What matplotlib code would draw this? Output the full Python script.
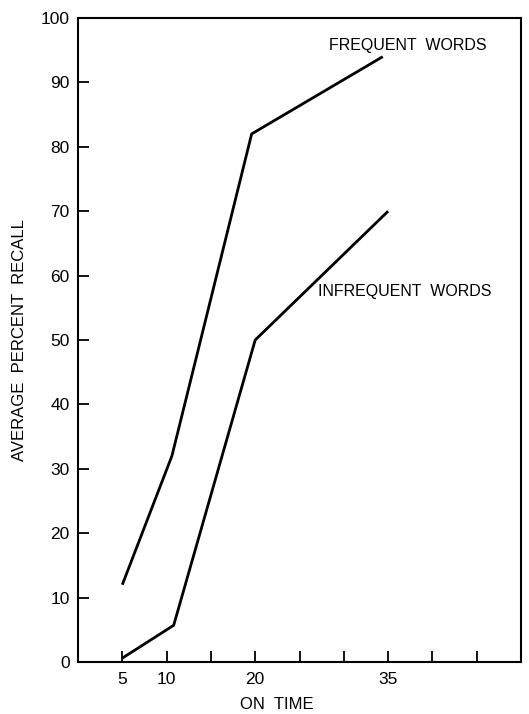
import matplotlib
matplotlib.use("Agg")
import matplotlib.pyplot as plt

# on time (x) and average percent recall (y)
freq_x = [5, 10.6, 19.6, 34.4]
freq_y = [12, 32, 82, 94]
infreq_x = [5, 10.8, 20, 35]
infreq_y = [0.6, 5.7, 50, 70]

x_ticks = [5, 10, 15, 20, 25, 30, 35, 40, 45]
x_labels = ["5", "10", "", "20", "", "", "35", "", ""]
y_ticks = list(range(0, 101, 10))

plt.rcParams['font.family'] = ['Liberation Sans', 'DejaVu Sans']

fig = plt.figure(figsize=(5.29, 7.14), dpi=100)
ax = fig.add_axes([78 / 529, 1 - 662 / 714, (521 - 78) / 529, (662 - 18) / 714])

ax.plot(freq_x, freq_y, color='black', linewidth=2, solid_capstyle='butt')
ax.plot(infreq_x, infreq_y, color='black', linewidth=2, solid_capstyle='butt')

ax.text(28.3, 95.7, "FREQUENT  WORDS", fontsize=11.5, va='center', ha='left')
ax.text(27.1, 57.5, "INFREQUENT  WORDS", fontsize=11.5, va='center', ha='left')

ax.set_xlim(0, 50)
ax.set_ylim(0, 100)
ax.set_xticks(x_ticks)
ax.set_xticklabels(x_labels)
ax.set_yticks(y_ticks)
ax.tick_params(direction='in', length=8, width=1.3, labelsize=12.5, pad=6)
ax.tick_params(axis='x', pad=7)

for s in ax.spines.values():
    s.set_linewidth(1.5)

ax.set_xlabel("ON  TIME", fontsize=12)
ax.xaxis.set_label_coords(0.449, -0.054)
ax.set_ylabel("AVERAGE  PERCENT  RECALL", fontsize=12, labelpad=10)

plt.savefig("out.png", dpi=100)
plt.close()
